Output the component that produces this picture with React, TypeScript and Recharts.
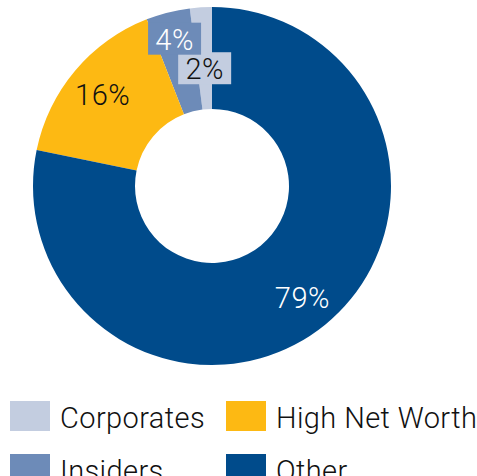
import React from 'react';
import { PieChart, Pie, Cell, Legend } from 'recharts';

const categories = ['Corporates', 'Insiders', 'High Net Worth', 'Other'];
const shares = [2, 4, 16, 79];
const colors = ['#C3CDE0', '#6D8BB8', '#FDB913', '#004B8B'];
const labelColors = ['#111111', '#ffffff', '#111111', '#ffffff'];

const data = categories.map((name, i) => ({ name, value: shares[i] }));

const RADIAN = Math.PI / 180;
const FONT = 'Roboto, "Liberation Sans", sans-serif';

// small slices get their labels pushed in/out so they don't collide
const labelRadius = (index: number) => {
  if (index === 0) return 118;
  if (index === 1) return 152;
  return 143;
};

const renderLabel = (props: any) => {
  const { cx, cy, midAngle, index } = props;
  const r = labelRadius(index);
  const x = cx + r * Math.cos(-midAngle * RADIAN);
  const y = cy + r * Math.sin(-midAngle * RADIAN);
  const text = `${shares[index]}%`;
  const boxW = 53;
  const small = index < 2;
  return (
    <g>
      {small && (
        <rect x={x - boxW / 2} y={y - 16} width={boxW} height={32} fill={colors[index]} />
      )}
      <text
        x={x}
        y={y + 1}
        fill={labelColors[index]}
        textAnchor="middle"
        dominantBaseline="central"
        fontSize={29}
        fontWeight={300}
        letterSpacing={0.5}
        fontFamily={FONT}
      >
        {text}
      </text>
    </g>
  );
};

const legendOrder = [0, 2, 1, 3];

const App: React.FC = () => {
  return (
    <div style={{ position: 'absolute', left: 0, top: 0, width: 477, height: 476, overflow: 'hidden', background: '#fff' }}>
      <PieChart width={477} height={476} margin={{ top: 0, right: 0, bottom: 0, left: 0 }}>
        <Pie
          data={data}
          dataKey="value"
          nameKey="name"
          cx={212}
          cy={186}
          innerRadius={77}
          outerRadius={179}
          startAngle={90}
          endAngle={450}
          stroke="none"
          label={renderLabel}
          labelLine={false}
          isAnimationActive={false}
        >
          {data.map((d, i) => (
            <Cell key={d.name} fill={colors[i]} />
          ))}
        </Pie>
        <Legend
          wrapperStyle={{ position: 'absolute', left: 10, top: 401, width: 467 }}
          content={() => (
            <div
              style={{
                display: 'grid',
                gridTemplateColumns: '216px 251px',
                rowGap: 23,
                fontFamily: FONT,
                fontWeight: 300,
                fontSize: 29,
                letterSpacing: 0.4,
                color: '#111',
              }}
            >
              {legendOrder.map((i) => (
                <div key={categories[i]} style={{ display: 'flex', alignItems: 'center', height: 30 }}>
                  <span style={{ width: 40, height: 30, background: colors[i], marginRight: 10, flexShrink: 0 }} />
                  <span style={{ lineHeight: '30px', whiteSpace: 'nowrap', marginTop: 3 }}>{categories[i]}</span>
                </div>
              ))}
            </div>
          )}
        />
      </PieChart>
    </div>
  );
};

export default App;
